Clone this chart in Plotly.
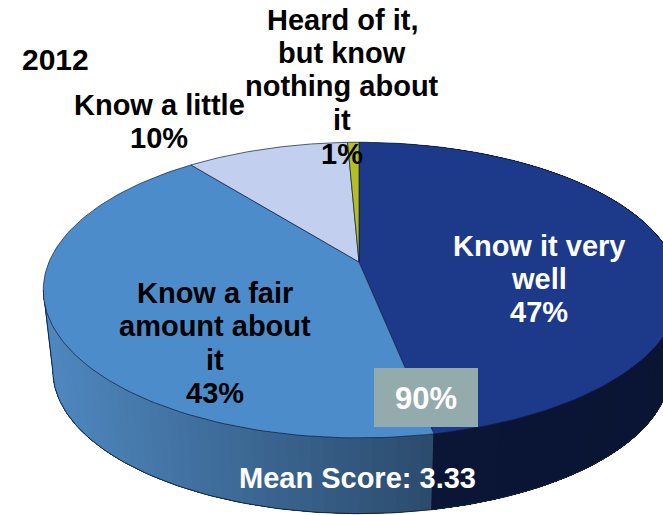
import numpy as np
import plotly.graph_objects as go

# Data
categories = ["Know it very well", "Know a fair amount about it", "Know a little",
              "Heard of it, but know nothing about it"]
values = [46.9, 42.4, 10.0, 0.7]
percent_labels = ["47%", "43%", "10%", "1%"]
mean_score = "Mean Score: 3.33"
year = "2012"
top_two_box = "90%"

top_colors = ["#1c398a", "#4d8ccb", "#c3cfef", "#b5bf1f"]
wall_from = ["#0b1739", "#2c4c6e", "#c3cfef", "#b5bf1f"]
wall_to = ["#0a1433", "#4f88c0", "#c3cfef", "#b5bf1f"]

# Projection of the tilted disc on to the page (pixel-valued axes)
CX, CY, A_L, A_R, B, K = 359.0, 262.0, 310.0, 315.0, 142.5, 0.19
WALL_SCALE, WALL_DROP = 0.97, 81.0
WALL_END = np.radians(259)  # leftmost point of the rim
W, H = 663, 515


def rim(t):
    X, Y = np.sin(t), np.cos(t)
    w = 1 + K * Y
    A = np.where(X > 0, A_R, A_L)
    return CX + A * X / w, CY - B * Y / w


def lower(x, y):
    return CX + (x - CX) * WALL_SCALE, CY + (y - CY) * WALL_SCALE + WALL_DROP


def mix(c1, c2, f):
    a = np.array([int(c1[i:i + 2], 16) for i in (1, 3, 5)], float)
    b = np.array([int(c2[i:i + 2], 16) for i in (1, 3, 5)], float)
    r = a + (b - a) * f
    return "rgb(%d,%d,%d)" % tuple(r.round())


total = sum(values)
edges = np.concatenate([[0], np.cumsum(values) / total * 2 * np.pi])
fig = go.Figure()


def poly(x, y, fill, line=None, width=1.0):
    fig.add_trace(go.Scatter(x=x, y=y, mode="lines", fill="toself", fillcolor=fill,
                             line=dict(color=line or fill, width=width if line else 0),
                             hoverinfo="skip", showlegend=False))


# Side wall: painted slice by slice, each strip running on to the slice's end so no seams show
for i in range(2):
    start, end = edges[i], min(edges[i + 1], WALL_END)
    steps = np.linspace(start, end, 50)
    span_x = rim(steps)[0]
    for a0 in steps[:-1]:
        tt = np.linspace(a0, end, 60)
        xt, yt = rim(tt)
        xb, yb = lower(xt, yt)
        f = (rim(np.array([a0]))[0][0] - span_x.min()) / (span_x.max() - span_x.min())
        if i == 1:
            f = 1 - f
        poly(np.r_[xt, xb[::-1]], np.r_[yt, yb[::-1]], mix(wall_from[i], wall_to[i], f))

# Wall outline
tt = np.linspace(np.radians(60), WALL_END, 200)
xt, yt = rim(tt)
xb, yb = lower(xt, yt)
fig.add_trace(go.Scatter(x=np.r_[xb, xt[-1]], y=np.r_[yb, yt[-1]], mode="lines",
                         line=dict(color="#12263f", width=1),
                         hoverinfo="skip", showlegend=False))
xj, yj = rim(np.array([edges[1]]))
xk, yk = lower(xj, yj)
fig.add_trace(go.Scatter(x=[xj[0], xk[0]], y=[yj[0], yk[0]], mode="lines",
                         line=dict(color="#0a1433", width=1), hoverinfo="skip", showlegend=False))

# Top face
for i, name in enumerate(categories):
    tt = np.linspace(edges[i], edges[i + 1], 120)
    xt, yt = rim(tt)
    poly(np.r_[CX, xt, CX], np.r_[CY, yt, CY], top_colors[i], "#0d1c40", 0.7)

FS = 29
notes = []


def text_block(lines, cx, ys, color="black", size=FS):
    for s, y in zip(lines, ys):
        notes.append(dict(x=cx, y=y, text="<b>%s</b>" % s, showarrow=False, xanchor="center",
                          yanchor="middle", font=dict(family="Liberation Sans", size=size, color=color)))


text_block(["Know it very", "well", percent_labels[0]], 539, [246, 279, 312], "white")
text_block(["Know a fair", "amount about", "it", percent_labels[1]], 215, [293, 326, 360, 393])
text_block(["Know a little", percent_labels[2]], 159, [105, 138])
text_block(["Heard of it,", "but know", "nothing about", "it", percent_labels[3]], 342, [20, 53, 86, 120, 154])
text_block([year], 55, [59], size=30)
text_block([mean_score], 357, [478], "white")
text_block([top_two_box], 426, [398], "white", 31)

fig.update_layout(
    width=W, height=H, margin=dict(l=0, r=0, t=0, b=0), autosize=False,
    paper_bgcolor="white", plot_bgcolor="white", showlegend=False,
    xaxis=dict(range=[0, W], visible=False, fixedrange=True),
    yaxis=dict(range=[H, 0], visible=False, fixedrange=True),
    annotations=notes,
    shapes=[dict(type="rect", xref="x", yref="y", x0=374, x1=478, y0=368, y1=427,
                 fillcolor="#94abad", line=dict(width=0), layer="above")],
)
fig.write_html("out.html", config=dict(displayModeBar=False),
               post_script="document.body.style.margin='0';document.body.style.overflow='hidden';")
